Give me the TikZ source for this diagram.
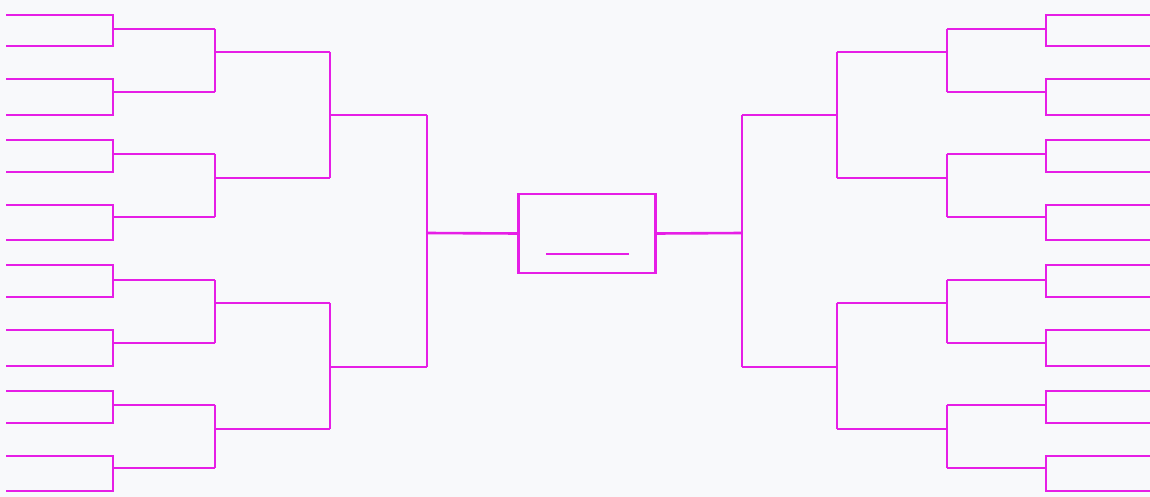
\documentclass[tikz,border=0pt]{standalone}
\definecolor{bg}{HTML}{F8F9FB}
\definecolor{mag}{HTML}{E61EE6}
\begin{document}
\begin{tikzpicture}[x=1pt,y=-1pt,
  bline/.style={draw=mag,line width=2.6pt,line join=miter},
  champ/.style={draw=mag,line width=2.6pt,minimum width=137pt,minimum height=79pt,inner sep=0pt}]
\fill[bg] (0,0) rectangle (1150,497);
\useasboundingbox (0,0) rectangle (1150,497);
% round 1
\foreach \y [count=\i] in {15,46,79,115,140,172,205,240,265,297,330,366,391,423,456,491}{
  \coordinate (La\i) at (6,\y); \coordinate (Lb\i) at (113,\y);
  \coordinate (Ra\i) at (1150,\y); \coordinate (Rb\i) at (1046,\y);}
% round 2
\foreach \y [count=\i] in {29,92,154,217,280,343,405,468}{
  \coordinate (Lc\i) at (113,\y); \coordinate (Ld\i) at (215,\y);
  \coordinate (Rc\i) at (1046,\y); \coordinate (Rd\i) at (947,\y);}
% round 3
\foreach \y [count=\i] in {52,178,303,429}{
  \coordinate (Le\i) at (215,\y); \coordinate (Lf\i) at (330,\y);
  \coordinate (Re\i) at (947,\y); \coordinate (Rf\i) at (837,\y);}
% round 4
\foreach \y [count=\i] in {115,367}{
  \coordinate (Lg\i) at (330,\y); \coordinate (Lh\i) at (427,\y);
  \coordinate (Rg\i) at (837,\y); \coordinate (Rh\i) at (742,\y);}
\coordinate (Lm) at (427,233);
\coordinate (Rm) at (742,233);
\node[champ] (box) at (587,233.5) {};
\coordinate (wa) at (546,254);
\coordinate (wb) at (629,254);
% draw brackets
\foreach \k in {1,...,8}{
  \pgfmathtruncatemacro{\a}{2*\k-1}\pgfmathtruncatemacro{\b}{2*\k}
  \draw[bline] (La\a) -- (Lb\a) -- (Lb\b) -- (La\b);
  \draw[bline] (Ra\a) -- (Rb\a) -- (Rb\b) -- (Ra\b);
  \draw[bline] (Lc\k) -- (Ld\k);
  \draw[bline] (Rc\k) -- (Rd\k);}
\foreach \k in {1,...,4}{
  \pgfmathtruncatemacro{\a}{2*\k-1}\pgfmathtruncatemacro{\b}{2*\k}
  \draw[bline] (Ld\a) -- (Ld\b);
  \draw[bline] (Rd\a) -- (Rd\b);
  \draw[bline] (Le\k) -- (Lf\k);
  \draw[bline] (Re\k) -- (Rf\k);}
\foreach \k in {1,2}{
  \pgfmathtruncatemacro{\a}{2*\k-1}\pgfmathtruncatemacro{\b}{2*\k}
  \draw[bline] (Lf\a) -- (Lf\b);
  \draw[bline] (Rf\a) -- (Rf\b);
  \draw[bline] (Lg\k) -- (Lh\k);
  \draw[bline] (Rg\k) -- (Rh\k);}
\draw[bline] (Lh1) -- (Lh2);
\draw[bline] (Rh1) -- (Rh2);
\draw[bline] (Lm) -- (box.west);
\draw[bline] (box.east) -- (Rm);
\draw[bline] (wa) -- (wb);
\end{tikzpicture}
\end{document}
